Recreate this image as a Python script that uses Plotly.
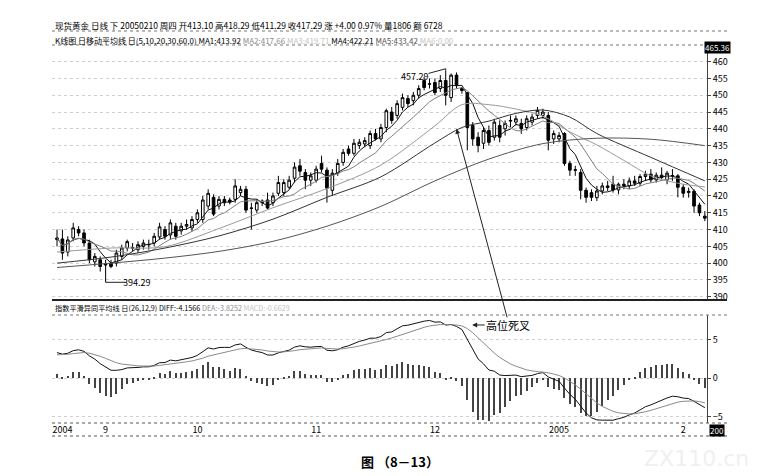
import plotly.graph_objects as go
import pandas as pd

# ---------------- data ----------------
opens = [407.0, 407.2, 403.3, 407.5, 410.0, 409.0, 406.0, 400.4, 401.0, 399.8,
         400.0, 400.0, 402.0, 404.5, 404.6, 404.0, 405.0, 405.6, 406.0, 407.8,
         410.0, 408.4, 411.0, 409.6, 411.0, 410.5, 413.0, 413.0, 417.0, 419.6,
         417.0, 419.0, 418.8, 419.0, 421.0, 422.0, 416.3, 415.8, 418.0, 418.8,
         418.0, 420.8, 421.0, 422.6, 425.3, 429.0, 427.0, 424.7, 424.7, 429.7,
         427.7, 421.7, 426.8, 430.0, 434.0, 432.7, 435.0, 435.5, 435.0, 438.6,
         437.0, 440.4, 445.0, 444.0, 446.4, 449.0, 448.4, 450.0, 454.4, 453.3,
         453.8, 452.0, 454.4, 449.3, 456.0, 452.0, 450.8, 441.0, 437.5, 435.7,
         439.5, 437.5, 441.0, 440.0, 442.3, 442.0, 441.6, 440.4, 442.0, 444.0,
         444.0, 444.0, 437.0, 437.0, 438.6, 429.7, 427.8, 427.0, 421.7, 421.0,
         419.5, 421.5, 423.0, 423.5, 421.8, 423.5, 423.0, 424.5, 423.8, 425.8,
         426.5, 424.8, 426.2, 424.7, 426.0, 426.0, 422.6, 421.0, 421.4, 417.3,
         414.0]
highs = [410.0, 410.0, 408.0, 412.0, 411.0, 410.0, 407.0, 403.0, 402.0, 401.0,
         401.0, 404.0, 405.5, 407.0, 406.0, 406.5, 407.0, 407.0, 409.0, 412.0,
         411.0, 413.0, 412.0, 412.0, 413.0, 414.0, 416.0, 420.0, 422.0, 420.5,
         420.0, 420.0, 419.5, 425.0, 423.0, 423.0, 418.0, 419.0, 419.0, 421.0,
         421.0, 426.0, 425.0, 426.0, 430.0, 431.0, 428.0, 427.0, 429.0, 432.0,
         428.5, 428.0, 431.0, 434.0, 435.0, 437.0, 437.0, 437.5, 439.5, 440.0,
         441.5, 446.0, 446.5, 448.5, 450.5, 450.0, 451.0, 453.0, 455.5, 455.0,
         455.0, 456.0, 457.29, 456.5, 456.8, 452.5, 451.0, 442.0, 439.0, 440.5,
         441.0, 443.0, 442.5, 442.5, 444.0, 444.0, 443.0, 444.0, 444.5, 446.5,
         446.0, 445.0, 439.5, 439.0, 439.0, 430.5, 429.0, 428.0, 422.5, 422.0,
         423.0, 424.0, 424.5, 426.0, 424.0, 425.0, 425.5, 426.0, 426.5, 427.5,
         428.0, 427.0, 428.5, 427.5, 428.0, 426.5, 423.5, 422.5, 422.0, 418.0,
         415.5]
lows = [405.0, 401.0, 402.0, 406.5, 408.0, 405.0, 400.0, 399.0, 397.5, 394.29,
        398.5, 399.0, 401.0, 403.5, 403.5, 403.0, 404.0, 404.0, 405.0, 407.0,
        407.0, 407.0, 407.0, 408.5, 410.0, 409.5, 412.0, 412.0, 416.0, 414.0,
        416.0, 417.0, 417.5, 418.0, 420.0, 415.0, 410.0, 415.0, 417.0, 416.0,
        417.0, 420.0, 420.0, 422.0, 424.0, 426.0, 422.0, 423.0, 424.0, 427.0,
        418.0, 420.0, 426.0, 429.0, 432.0, 432.0, 434.0, 434.5, 434.0, 436.5,
        436.0, 439.0, 441.5, 443.0, 445.5, 446.5, 447.0, 449.0, 451.5, 452.0,
        450.0, 451.0, 447.0, 448.0, 452.0, 450.5, 433.6, 435.0, 433.0, 434.0,
        435.0, 436.5, 436.0, 438.0, 440.5, 441.0, 438.5, 439.5, 441.0, 443.0,
        443.0, 433.6, 435.5, 436.0, 429.0, 426.0, 426.0, 419.0, 418.0, 418.5,
        418.5, 420.5, 421.5, 421.0, 420.5, 422.0, 422.0, 423.0, 423.0, 424.5,
        424.0, 424.0, 425.0, 423.5, 424.5, 419.6, 419.5, 419.5, 415.0, 414.0,
        412.5]
closes = [407.5, 403.0, 406.9, 410.5, 409.0, 406.0, 401.0, 402.0, 399.0, 399.5,
          399.0, 403.0, 404.5, 406.4, 404.5, 405.5, 406.0, 405.5, 408.0, 410.8,
          408.0, 412.0, 408.0, 411.0, 411.5, 413.0, 415.0, 418.8, 420.8, 414.6,
          419.0, 418.0, 418.2, 423.0, 422.0, 415.8, 416.4, 418.0, 418.5, 416.4,
          420.0, 424.0, 424.0, 424.7, 428.6, 427.4, 424.7, 426.0, 428.0, 428.0,
          422.3, 426.8, 429.7, 433.0, 432.7, 435.7, 436.0, 436.5, 438.6, 437.0,
          440.4, 445.4, 442.5, 447.5, 449.3, 447.5, 450.0, 452.0, 452.3, 453.4,
          450.8, 454.4, 450.0, 456.0, 453.0, 451.4, 440.4, 437.0, 435.0, 439.5,
          436.0, 442.0, 437.5, 441.6, 442.5, 443.0, 440.0, 443.0, 443.5, 445.5,
          445.0, 436.6, 438.6, 438.0, 429.7, 427.7, 427.7, 421.7, 419.6, 419.6,
          421.5, 423.0, 422.5, 421.8, 423.5, 423.0, 424.5, 423.8, 425.8, 426.5,
          424.8, 426.2, 425.5, 426.8, 426.1, 422.6, 420.8, 421.4, 417.0, 415.0,
          413.4]
bar_idx = list(range(len(closes)))

ma20_idx = [0, 10, 20, 30, 40, 50, 60, 70, 75, 80, 85, 90, 95, 100, 105, 110, 115, 120]
ma20_val = [403.3, 404.5, 404.9, 410.3, 416.5, 422.2, 429.2, 440.9, 447.2, 447.2,
            445.9, 443.8, 439.1, 435.2, 430.6, 426.0, 423.8, 422.7]
ma30_idx = [0, 10, 20, 30, 40, 50, 60, 70, 75, 80, 85, 90, 95, 100, 110, 120]
ma30_val = [400.0, 401.8, 404.5, 408.1, 413.1, 419.6, 425.7, 435.8, 440.4, 442.3,
            444.6, 445.6, 443.5, 438.6, 431.5, 424.5]
ma60_idx = [0, 10, 20, 30, 40, 50, 60, 70, 80, 90, 100, 110, 120]
ma60_val = [398.7, 400.0, 401.5, 403.5, 406.5, 411.0, 416.9, 424.5, 431.0, 435.6,
            437.2, 436.9, 435.0]

# MACD indicator state at the first visible bar
ema12_start, ema26_start, dea_start = 401.5, 398.4, 3.0

tick_idx = [1, 9, 26, 48, 70, 93, 116]
tick_text = ['2004', '9', '10', '11', '12', '2005', '2']

price_ticks = [390, 395, 400, 405, 410, 415, 420, 425, 430, 435, 440, 445, 450, 455, 460]
macd_ticks = [-5, 0, 5]

# ---------------- derived series ----------------
s = pd.Series(closes)
ma5 = s.rolling(5, min_periods=1).mean()
ma10 = s.rolling(10, min_periods=1).mean()

e12, e26, dea = ema12_start, ema26_start, dea_start
diff_s, dea_s, macd_s = [], [], []
for c in closes:
    e12 += (c - e12) * 2 / 13
    e26 += (c - e26) * 2 / 27
    d = e12 - e26
    dea += (d - dea) * 2 / 10
    diff_s.append(d)
    dea_s.append(dea)
    macd_s.append(2 * (d - dea))

# ---------------- figure ----------------
FONT = "Noto Sans CJK SC"
fig = go.Figure()

fig.add_trace(go.Candlestick(
    x=bar_idx, open=opens, high=highs, low=lows, close=closes,
    xaxis='x', yaxis='y', whiskerwidth=0, showlegend=False,
    increasing=dict(line=dict(color='black', width=1), fillcolor='white'),
    decreasing=dict(line=dict(color='black', width=1), fillcolor='black'),
    hoverinfo='skip'))

fig.add_trace(go.Scatter(x=bar_idx, y=ma5, mode='lines', xaxis='x', yaxis='y',
                         line=dict(color='#111111', width=1), showlegend=False))
fig.add_trace(go.Scatter(x=bar_idx, y=ma10, mode='lines', xaxis='x', yaxis='y',
                         line=dict(color='#808080', width=1), showlegend=False))
fig.add_trace(go.Scatter(x=ma20_idx, y=ma20_val, mode='lines', xaxis='x', yaxis='y',
                         line=dict(color='#9a9a9a', width=1, shape='spline', smoothing=0.9),
                         showlegend=False))
fig.add_trace(go.Scatter(x=ma30_idx, y=ma30_val, mode='lines', xaxis='x', yaxis='y',
                         line=dict(color='#333333', width=1, shape='spline', smoothing=0.9),
                         showlegend=False))
fig.add_trace(go.Scatter(x=ma60_idx, y=ma60_val, mode='lines', xaxis='x', yaxis='y',
                         line=dict(color='#555555', width=1, shape='spline', smoothing=0.9),
                         showlegend=False))

fig.add_trace(go.Bar(x=bar_idx, y=macd_s, xaxis='x2', yaxis='y2', width=0.22,
                     marker=dict(color='#444444', line=dict(width=0)), showlegend=False))
fig.add_trace(go.Scatter(x=bar_idx, y=diff_s, mode='lines', xaxis='x2', yaxis='y2',
                         line=dict(color='#111111', width=1), showlegend=False))
fig.add_trace(go.Scatter(x=bar_idx, y=dea_s, mode='lines', xaxis='x2', yaxis='y2',
                         line=dict(color='#8a8a8a', width=1), showlegend=False))

# the page body adds an 8px offset, so the figure is 8px smaller and shifted
xr = [-0.93, 120.4]
fig.update_layout(
    width=755, height=468,
    margin=dict(l=44, r=56, t=37, b=53),
    paper_bgcolor='white', plot_bgcolor='white',
    font=dict(family=FONT, size=9, color='black'),
    bargap=0,
    xaxis=dict(domain=[0, 1], range=xr, anchor='y', showticklabels=False,
               showgrid=False, zeroline=False, rangeslider=dict(visible=False),
               showline=False),
    xaxis2=dict(domain=[0, 1], range=xr, anchor='y2', matches='x',
                tickvals=tick_idx, ticktext=tick_text, ticks='', showgrid=False,
                zeroline=False, showline=False, tickfont=dict(size=9, family=FONT)),
    yaxis=dict(domain=[0.3254, 1], range=[389.02, 464.97], side='right', anchor='x',
               tickvals=price_ticks, ticks='outside', ticklen=3, tickcolor='#444',
               showline=True, linecolor='#444', linewidth=1,
               showgrid=True, gridcolor='#cfcfcf', griddash='dot', gridwidth=1,
               zeroline=False, tickfont=dict(size=9, family=FONT)),
    yaxis2=dict(domain=[0, 0.2857], range=[-5.83, 8.25], side='right', anchor='x2',
                tickvals=macd_ticks, ticks='outside', ticklen=3, tickcolor='#444',
                showline=True, linecolor='#444', linewidth=1,
                showgrid=True, gridcolor='#cfcfcf', griddash='dot', gridwidth=1,
                zeroline=False, tickfont=dict(size=9, family=FONT)),
)

# helpers: screenshot pixel -> paper coordinate
W = 655.0
H = 378.0
def px_x(p):
    return (p - 52) / W
def px_y(p):
    return (423 - p) / H

shapes = [
    dict(type='line', xref='paper', yref='paper', x0=0, x1=px_x(727), y0=px_y(31), y1=px_y(31),
         line=dict(color='#777', width=1, dash='dot')),
    dict(type='line', xref='paper', yref='paper', x0=0, x1=px_x(727), y0=1, y1=1,
         line=dict(color='#777', width=1, dash='dot')),
    dict(type='line', xref='paper', yref='paper', x0=0, x1=px_x(727), y0=0.3254, y1=0.3254,
         line=dict(color='#222', width=2)),
    dict(type='line', xref='paper', yref='paper', x0=0, x1=px_x(727), y0=0.2857, y1=0.2857,
         line=dict(color='#777', width=1, dash='dot')),
    dict(type='line', xref='paper', yref='paper', x0=0, x1=px_x(727), y0=0, y1=0,
         line=dict(color='#555', width=1, dash='dot')),
    dict(type='line', xref='paper', yref='paper', x0=0, x1=px_x(727), y0=px_y(436), y1=px_y(436),
         line=dict(color='#555', width=1, dash='dot')),
    # 457.29 connector
    dict(type='line', xref='x', yref='y', x0=68.8, y0=456.5, x1=72, y1=457.9,
         line=dict(color='#222', width=1)),
    dict(type='line', xref='x', yref='y', x0=72, y0=457.9, x1=72, y1=457.29,
         line=dict(color='#222', width=1)),
    # 394.29 connector
    dict(type='line', xref='x', yref='y', x0=9, y0=394.29, x1=12.6, y1=394.29,
         line=dict(color='#222', width=1)),
]
fig.update_layout(shapes=shapes)

g1 = '#8c8c8c'
g2 = '#c4c4c4'
header1 = "现货黄金 日线 下 20050210 周四 开413.10 高418.29 低411.29 收417.29 涨 +4.00 0.97% 量1806 额 6728"
header2 = ("K线图 日移动平均线 日(5,10,20,30,60,0) MA1:413.92 "
           f"<span style='color:{g1}'>MA2:417.66</span> "
           f"<span style='color:{g2}'>MA3:419.71</span> MA4:422.21 "
           f"<span style='color:#555'>MA5:433.42</span> "
           f"<span style='color:{g2}'>MA6:0.00</span>")
header3 = ("指数平滑异同平均线 日(26,12,9) DIFF:-4.1566 "
           f"<span style='color:{g1}'>DEA:-3.8252</span> "
           f"<span style='color:{g2}'>MACD:-0.6629</span>")

ann = [
    dict(text=header1, xref='paper', yref='paper', x=px_x(53), y=px_y(25),
         xanchor='left', yanchor='middle', showarrow=False, font=dict(size=8.5, family=FONT)),
    dict(text=header2, xref='paper', yref='paper', x=px_x(53), y=px_y(41),
         xanchor='left', yanchor='middle', showarrow=False, font=dict(size=8.0, family=FONT)),
    dict(text=header3, xref='paper', yref='paper', x=px_x(53), y=px_y(308),
         xanchor='left', yanchor='middle', showarrow=False, font=dict(size=7.2, family=FONT)),
    dict(text='465.36', xref='paper', yref='paper', x=px_x(717), y=px_y(47),
         xanchor='center', yanchor='middle', showarrow=False, bgcolor='black',
         font=dict(size=8, color='white', family=FONT), borderpad=0),
    dict(text='200', xref='paper', yref='paper', x=px_x(717), y=px_y(430),
         xanchor='center', yanchor='middle', showarrow=False, bgcolor='black',
         font=dict(size=8, color='white', family=FONT), borderpad=0),
    dict(text='457.29', xref='x', yref='y', x=66.3, y=455.6, showarrow=False,
         font=dict(size=9, family=FONT)),
    dict(text='394.29', xref='x', yref='y', x=14.8, y=394.1, showarrow=False,
         font=dict(size=9, family=FONT)),
    dict(text='', xref='x', yref='y', x=74, y=440, ax=51, ay=190, axref='pixel', ayref='pixel',
         showarrow=True, arrowhead=2, arrowsize=1, arrowwidth=1, arrowcolor='#222'),
    dict(text='高位死叉', xref='x2', yref='y2', x=76.9, y=6.95, ax=36, ay=0,
         showarrow=True, arrowhead=2, arrowsize=1, arrowwidth=1, arrowcolor='#222',
         font=dict(size=11, family=FONT)),
    dict(text='<b>图 （8－13）</b>', xref='paper', yref='paper', x=px_x(400), y=px_y(461),
         xanchor='center', yanchor='middle', showarrow=False,
         font=dict(size=13, family=FONT)),
    dict(text='ZX110.cn', xref='paper', yref='paper', x=px_x(696), y=px_y(458),
         xanchor='center', yanchor='middle', showarrow=False,
         font=dict(size=22, color='#f0f0f0', family='DejaVu Sans')),
]
fig.update_layout(annotations=ann)

fig.write_html("out.html")
